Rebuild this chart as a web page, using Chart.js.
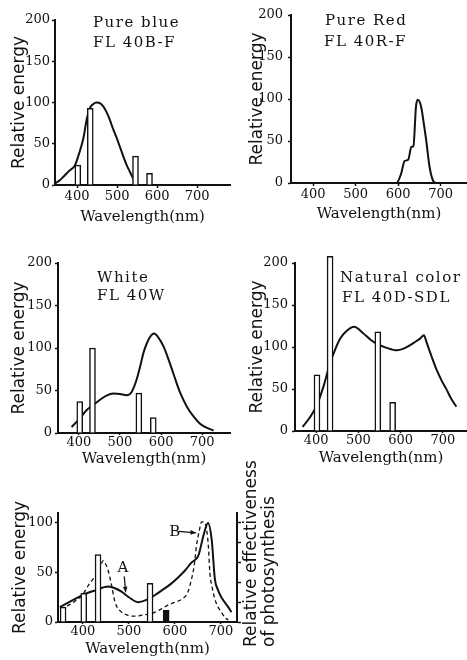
<!DOCTYPE html>
<html>
<head>
<meta charset="utf-8">
<script src="https://cdn.jsdelivr.net/npm/chart.js@4.4.0/dist/chart.umd.min.js"></script>
<style>
  body { margin: 0; background: #fff; }
  #page { position: relative; width: 467px; height: 660px; overflow: hidden; background: #fff; }
  canvas { position: absolute; }
</style>
</head>
<body>
<div id="page">
  <canvas id="blue" width="240" height="230" style="left:0;top:0"></canvas>
  <canvas id="red" width="231" height="230" style="left:236px;top:0"></canvas>
  <canvas id="white" width="240" height="235" style="left:0;top:240px"></canvas>
  <canvas id="natural" width="231" height="235" style="left:236px;top:240px"></canvas>
  <canvas id="plant" width="290" height="210" style="left:0;top:450px"></canvas>
</div>
<script>
// mercury emission lines, nm (as placed in the figure)
const hgLines = [402, 433, 546, 581];
const hgLinesPlant = [357, 402, 433, 546, 581];
const wlTicks = [400, 500, 600, 700];

// Pure blue FL 40B-F
const blueWl = [345, 355, 366, 380, 395, 405, 416, 424, 432, 440, 449, 458, 466, 474, 482, 490, 499, 508, 516, 524, 532, 540, 545, 553, 600, 700, 782];
const blueEnergy = [2, 5, 10, 17, 24, 38, 57, 79, 93, 98, 100, 99, 95, 88, 79, 68, 57, 45, 34, 24, 16, 8, 4, 0, 0, 0, 0];
const blueBars = [24, 93, 35, 14];

// Pure red FL 40R-F
const redWl = [348, 500, 596, 607, 615, 624, 631, 636, 642, 646, 654, 660, 666, 674, 683, 690, 762];
const redEnergy = [0, 0, 0, 11, 26, 28, 43, 44, 91, 99, 91, 72, 51, 19, 2, 0, 0];

// White FL 40W
const whiteWl = [382, 400, 419, 435, 451, 467, 484, 500, 516, 528, 540, 549, 557, 565, 573, 583, 594, 606, 618, 630, 646, 663, 680, 695, 712, 728];
const whiteEnergy = [7, 16, 27, 33, 39, 44, 46.5, 46, 44.5, 48, 62, 78, 94, 105, 113, 117, 112, 102, 87, 70, 48, 31, 19, 11, 6, 3];
const whiteBars = [37, 100, 47, 18];

// Natural color FL 40D-SDL
const naturalWl = [368, 385, 402, 418, 433, 445, 457, 472, 490, 512, 528, 543, 567, 591, 607, 622, 634, 646, 655, 661, 673, 685, 697, 709, 720, 732];
const naturalEnergy = [5, 16, 31, 54, 81, 97, 110, 119, 124, 116, 109, 104, 99, 96, 98, 102, 106, 110, 114, 106, 89, 73, 60, 49, 38, 29];
const naturalBars = [67, 208, 118, 34];

// plant growth lamp (A) and photosynthesis action spectrum (B)
const lampWl = [350, 374, 397, 426, 455, 470, 484, 500, 520, 542, 556, 571, 590, 607, 622, 636, 651, 662, 672, 680, 687, 694, 701, 716, 723];
const lampEnergy = [15, 21, 26.7, 31.7, 35.7, 34, 30.7, 25, 20, 23, 27, 31.7, 38, 45, 52, 60, 67, 87, 100, 83, 43, 32, 25, 15, 10];
const actionWl = [352, 380, 400, 412, 425, 433, 440, 444, 450, 455, 462, 470, 484, 497, 506, 518, 528, 545, 557, 570, 585, 600, 615, 628, 636, 642, 647, 653, 658, 663, 669, 673, 676, 681, 687, 694, 701, 708, 716];
const actionEffect = [13, 20, 28, 37, 45, 50, 58, 62, 58, 52, 38, 20, 10, 7, 6, 6, 7, 8, 10, 13, 17, 20, 23, 30, 43, 57, 77, 92, 101, 101, 93, 75, 50, 35, 23, 15, 10, 5, 2];
const plantBars = [15, 29, 68, 39, 12];

const ink = '#111';
const pts = (xs, ys) => xs.map((x, i) => ({x: x, y: ys[i]}));
const keepTicks = list => scale => { scale.ticks = list.map(v => ({value: v})); };

const textPlugin = {
    id: 'panelText',
    afterDraw(chart, args, opts) {
        const ctx = chart.ctx;
        (opts.items || []).forEach(it => {
            ctx.save();
            ctx.font = it.font || '15px "DejaVu Serif"';
            ctx.fillStyle = ink;
            ctx.letterSpacing = it.spacing || '0px';
            ctx.textAlign = it.align || 'left';
            ctx.textBaseline = it.baseline || 'alphabetic';
            let x = it.x, y = it.y;
            if (it.data) {
                x = chart.scales.x.getPixelForValue(it.x);
                y = chart.scales.y.getPixelForValue(it.y);
            }
            ctx.translate(x, y);
            if (it.rotate) ctx.rotate(it.rotate);
            ctx.fillText(it.text, 0, 0);
            ctx.restore();
        });
        (opts.arrows || []).forEach(a => {
            const sx = chart.scales.x, sy = chart.scales.y;
            const x1 = sx.getPixelForValue(a[0]), y1 = sy.getPixelForValue(a[1]);
            const x2 = sx.getPixelForValue(a[2]), y2 = sy.getPixelForValue(a[3]);
            const ang = Math.atan2(y2 - y1, x2 - x1);
            ctx.save();
            ctx.strokeStyle = ink;
            ctx.fillStyle = ink;
            ctx.lineWidth = 1.2;
            ctx.beginPath();
            ctx.moveTo(x1, y1);
            ctx.lineTo(x2, y2);
            ctx.stroke();
            ctx.beginPath();
            ctx.moveTo(x2, y2);
            ctx.lineTo(x2 - 6 * Math.cos(ang - 0.4), y2 - 6 * Math.sin(ang - 0.4));
            ctx.lineTo(x2 - 6 * Math.cos(ang + 0.4), y2 - 6 * Math.sin(ang + 0.4));
            ctx.closePath();
            ctx.fill();
            ctx.restore();
        });
    }
};

const lineSet = (xs, ys, extra) => Object.assign({
    type: 'line',
    data: pts(xs, ys),
    borderColor: ink,
    borderWidth: 2,
    pointRadius: 0,
    fill: false,
    cubicInterpolationMode: 'monotone',
    order: 1
}, extra || {});

const barSet = (xs, ys, fills) => ({
    type: 'bar',
    data: pts(xs, ys),
    backgroundColor: fills || '#fff',
    borderColor: ink,
    borderWidth: 1.5,
    barThickness: 6,
    clip: false,
    order: 0
});

function makePanel(id, cfg) {
    const scales = {
        x: {
            type: 'linear',
            min: cfg.xMin,
            max: cfg.xMax,
            offset: false,
            afterBuildTicks: keepTicks(wlTicks),
            afterFit: s => { s.height = cfg.xHeight; },
            ticks: {stepSize: 100, includeBounds: false, maxRotation: 0, autoSkip: false, color: ink,
                padding: cfg.xTickPad, font: {family: 'DejaVu Serif', size: 13}},
            grid: {drawOnChartArea: false, offset: false, tickLength: cfg.xTickLen, color: ink, tickWidth: 1.5},
            border: {display: true, color: ink, width: 2},
            title: {display: true, text: 'Wavelength(nm)', color: ink,
                padding: {top: 0, bottom: cfg.xTitlePad}, font: {family: 'DejaVu Serif', size: 15}}
        },
        y: {
            type: 'linear',
            min: 0,
            max: cfg.yMax,
            afterBuildTicks: keepTicks(cfg.yTicks),
            afterFit: s => { s.width = cfg.yWidth; },
            ticks: {stepSize: 50, includeBounds: false, autoSkip: false, color: ink, padding: cfg.yTickPad,
                font: {family: 'DejaVu Serif', size: 13}},
            grid: {drawOnChartArea: false, tickLength: 3, color: ink, tickWidth: 1.5},
            border: {display: true, color: ink, width: 2},
            title: {display: true, text: 'Relative energy', color: ink,
                padding: {top: cfg.yTitlePad, bottom: 0}, font: {family: 'DejaVu Sans', size: 17}}
        }
    };
    if (cfg.rightAxis) {
        scales.y2 = {
            type: 'linear',
            position: 'right',
            min: 0,
            max: cfg.yMax,
            afterBuildTicks: keepTicks([0, 20, 40, 60, 80, 100]),
            afterFit: s => { s.width = 4; },
            ticks: {display: false, stepSize: 20},
            grid: {drawOnChartArea: false, tickLength: 4, color: ink, tickWidth: 1.5},
            border: {display: true, color: ink, width: 2}
        };
    }
    return new Chart(document.getElementById(id), {
        type: 'line',
        data: {datasets: cfg.datasets},
        options: {
            responsive: false,
            animation: false,
            layout: {padding: cfg.padding},
            plugins: {
                legend: {display: false},
                tooltip: {enabled: false},
                panelText: {items: cfg.texts, arrows: cfg.arrows || []}
            },
            scales: scales
        },
        plugins: [textPlugin]
    });
}

const headFont = '15px "DejaVu Serif"';
const head = (text, x, y) => ({text: text, x: x, y: y, font: headFont, spacing: '1.5px'});

makePanel('blue', {
    datasets: [barSet(hgLines, blueBars), lineSet(blueWl, blueEnergy)],
    xMin: 345, xMax: 782, yMax: 200, yTicks: [0, 50, 100, 150, 200],
    padding: {top: 20, right: 10, left: 0, bottom: 0},
    yWidth: 55, xHeight: 45, yTitlePad: 9, yTickPad: 2,
    xTickLen: 3, xTickPad: 1, xTitlePad: 4,
    texts: [head('Pure blue', 93, 27), head('FL 40B-F', 93, 47)]
});

makePanel('red', {
    datasets: [lineSet(redWl, redEnergy)],
    xMin: 348, xMax: 762, yMax: 200, yTicks: [0, 50, 100, 150, 200],
    padding: {top: 15, right: 0, left: 0, bottom: 0},
    yWidth: 55, xHeight: 47, yTitlePad: 11, yTickPad: 5,
    xTickLen: 3, xTickPad: 1, xTitlePad: 7,
    texts: [head('Pure Red', 89, 25), head('FL 40R-F', 88, 46)]
});

makePanel('white', {
    datasets: [barSet(hgLines, whiteBars), lineSet(whiteWl, whiteEnergy)],
    xMin: 349, xMax: 768, yMax: 200, yTicks: [0, 50, 100, 150, 200],
    padding: {top: 23, right: 10, left: 0, bottom: 0},
    yWidth: 58, xHeight: 42, yTitlePad: 9, yTickPad: 3,
    xTickLen: 2, xTickPad: 0, xTitlePad: 7,
    texts: [head('White', 97, 42), head('FL 40W', 97, 60)]
});

makePanel('natural', {
    datasets: [barSet(hgLines, naturalBars), lineSet(naturalWl, naturalEnergy)],
    xMin: 350, xMax: 757, yMax: 200, yTicks: [0, 50, 100, 150, 200],
    padding: {top: 23, right: 0, left: 0, bottom: 0},
    yWidth: 59, xHeight: 44, yTitlePad: 11, yTickPad: 4,
    xTickLen: 2, xTickPad: 0, xTitlePad: 8,
    texts: [head('Natural color', 104, 42), head('FL 40D-SDL', 106, 62)]
});

makePanel('plant', {
    datasets: [
        barSet(hgLinesPlant, plantBars, ['#fff', '#fff', '#fff', '#fff', ink]),
        lineSet(lampWl, lampEnergy),
        lineSet(actionWl, actionEffect, {borderWidth: 1.3, borderDash: [4, 3], order: 2})
    ],
    xMin: 346, xMax: 735, yMax: 110, yTicks: [0, 50, 100],
    rightAxis: true,
    padding: {top: 63, right: 49, left: 0, bottom: 0},
    yWidth: 58, xHeight: 38, yTitlePad: 10, yTickPad: 2,
    xTickLen: 2, xTickPad: 0, xTitlePad: 2,
    texts: [
        {text: 'A', x: 487, y: 54, data: true, align: 'center', baseline: 'middle'},
        {text: 'B', x: 600, y: 91, data: true, align: 'center', baseline: 'middle'},
        {text: 'Relative effectiveness', x: 252, y: 197, rotate: -Math.PI / 2,
            font: '17px "DejaVu Sans"', baseline: 'middle'},
        {text: 'of photosynthesis', x: 270, y: 197, rotate: -Math.PI / 2,
            font: '17px "DejaVu Sans"', baseline: 'middle'}
    ],
    arrows: [[490, 46, 493, 30], [608, 91.5, 646, 90]]
});
</script>
</body>
</html>
